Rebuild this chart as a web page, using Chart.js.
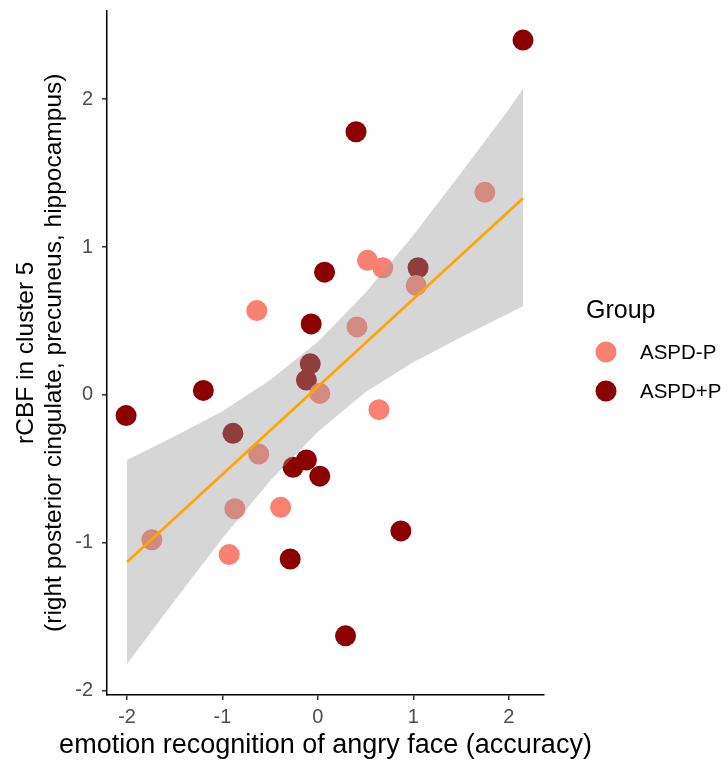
<!DOCTYPE html>
<html>
<head>
<meta charset="utf-8">
<script src="https://cdn.jsdelivr.net/npm/chart.js@4.4.1/dist/chart.umd.min.js"></script>
<style>
  html, body { margin: 0; padding: 0; background: #fff; }
  #wrap { width: 728px; height: 762px; }
</style>
</head>
<body>
<div id="wrap"><canvas id="chart" width="728" height="762"></canvas></div>
<script>
// ---- data ----
const groups = ['ASPD-P', 'ASPD+P'];

// ASPD-P (light)
const lowX = [1.75, 0.52, 0.68, 1.03, -0.64, 0.41, 0.02, -0.62, 0.64, -0.87, -0.39, -0.93, -1.74];
const lowY = [1.37, 0.91, 0.86, 0.74, 0.57, 0.46, 0.01, -0.40, -0.10, -0.77, -0.76, -1.08, -0.98];

// ASPD+P (dark)
const highX = [2.15, 0.40, 0.07, -0.07, 1.05, -0.08, -0.12, -1.20, -2.01, -0.89, -0.26, -0.12, 0.02, -0.29, 0.29, 0.87];
const highY = [2.40, 1.78, 0.83, 0.48, 0.86, 0.21, 0.10, 0.03, -0.14, -0.26, -0.49, -0.44, -0.55, -1.11, -1.63, -0.92];

// fitted line + confidence band
const fitX = [-2.0, 2.15];
const fitY = [-1.13, 1.33];
const bandX     = [-2.0, -1.5, -1.0, -0.5, 0.0, 0.5, 1.0, 1.5, 2.0, 2.15];
const bandUpper = [-0.44, -0.28, -0.11, 0.10, 0.36, 0.69, 1.08, 1.50, 1.93, 2.07];
const bandLower = [-1.82, -1.39, -0.97, -0.58, -0.25, 0.02, 0.22, 0.39, 0.55, 0.60];

const xTicks = [-2, -1, 0, 1, 2];
const yTicks = [-2, -1, 0, 1, 2];

const xTitle = 'emotion recognition of angry face (accuracy)';
const yTitle = ['rCBF in cluster 5', '(right posterior cingulate, precuneus, hippocampus)'];

const colors = ['#FA8072', '#8B0000'];

// ---- helpers ----
const pts = (xs, ys) => xs.map((x, i) => ({ x, y: ys[i] }));
const FONT = '"Liberation Sans", Arial, sans-serif';

Chart.defaults.font.family = FONT;
Chart.defaults.color = '#4D4D4D';

// x title + legend drawn by hand (chart.js would squeeze the title to the axis width)
const extras = {
  id: 'extras',
  afterDraw(chart) {
    const ctx = chart.ctx;
    const area = chart.chartArea;
    ctx.save();
    ctx.fillStyle = '#000';
    ctx.textBaseline = 'middle';

    ctx.textAlign = 'center';
    ctx.font = '27px ' + FONT;
    ctx.fillText(xTitle, (area.left + area.right) / 2, 746);

    ctx.textAlign = 'left';
    ctx.font = '25px ' + FONT;
    ctx.fillText('Group', 586, 311);
    ctx.font = '20.5px ' + FONT;
    groups.forEach((g, i) => {
      const cy = 352 + i * 39;
      ctx.beginPath();
      ctx.arc(606, cy, 10.5, 0, Math.PI * 2);
      ctx.fillStyle = colors[i];
      ctx.fill();
      ctx.fillStyle = '#000';
      ctx.fillText(g, 640, cy + 1);
    });
    ctx.restore();
  }
};

new Chart(document.getElementById('chart'), {
  type: 'scatter',
  data: {
    datasets: [
      {
        label: groups[0],
        data: pts(lowX, lowY),
        backgroundColor: colors[0],
        borderWidth: 0,
        pointRadius: 10.5,
        pointHoverRadius: 10.5,
        order: 3
      },
      {
        label: groups[1],
        data: pts(highX, highY),
        backgroundColor: colors[1],
        borderWidth: 0,
        pointRadius: 10.5,
        pointHoverRadius: 10.5,
        order: 3
      },
      {
        type: 'line',
        label: 'upper',
        data: pts(bandX, bandUpper),
        borderColor: 'transparent',
        borderWidth: 0,
        pointRadius: 0,
        backgroundColor: 'rgba(153,153,153,0.4)',
        fill: '+1',
        tension: 0,
        order: 2
      },
      {
        type: 'line',
        label: 'lower',
        data: pts(bandX, bandLower),
        borderColor: 'transparent',
        borderWidth: 0,
        pointRadius: 0,
        fill: false,
        tension: 0,
        order: 2
      },
      {
        type: 'line',
        label: 'fit',
        data: pts(fitX, fitY),
        borderColor: '#FFA500',
        borderWidth: 2.7,
        pointRadius: 0,
        fill: false,
        order: 1
      }
    ]
  },
  options: {
    responsive: false,
    animation: false,
    layout: { padding: { top: 7, right: 184, left: 0, bottom: 0 } },
    plugins: {
      legend: { display: false },
      tooltip: { enabled: false }
    },
    scales: {
      x: {
        type: 'linear',
        min: -2.21,
        max: 2.37,
        afterBuildTicks: s => { s.ticks = xTicks.map(v => ({ value: v })); },
        afterFit: s => { s.height = 67; s.paddingLeft = 0; s.paddingRight = 0; },
        border: { display: true, color: '#000', width: 1.5 },
        grid: { display: true, drawOnChartArea: false, drawTicks: true, tickLength: 5, color: '#333', lineWidth: 1.5 },
        ticks: { font: { size: 20 }, color: '#4D4D4D', padding: 5, maxRotation: 0 }
      },
      y: {
        type: 'linear',
        min: -2.03,
        max: 2.6,
        afterBuildTicks: s => { s.ticks = yTicks.map(v => ({ value: v })); },
        afterFit: s => { s.width = 107; s.paddingTop = 0; s.paddingBottom = 0; },
        border: { display: true, color: '#000', width: 1.5 },
        grid: { display: true, drawOnChartArea: false, drawTicks: true, tickLength: 5, color: '#333', lineWidth: 1.5 },
        ticks: { font: { size: 20 }, color: '#4D4D4D', padding: 9 },
        title: {
          display: true,
          text: yTitle,
          color: '#000',
          font: { size: 24.5, lineHeight: 1.15 },
          padding: { top: 12, bottom: 0 }
        }
      }
    }
  },
  plugins: [extras]
});
</script>
</body>
</html>
